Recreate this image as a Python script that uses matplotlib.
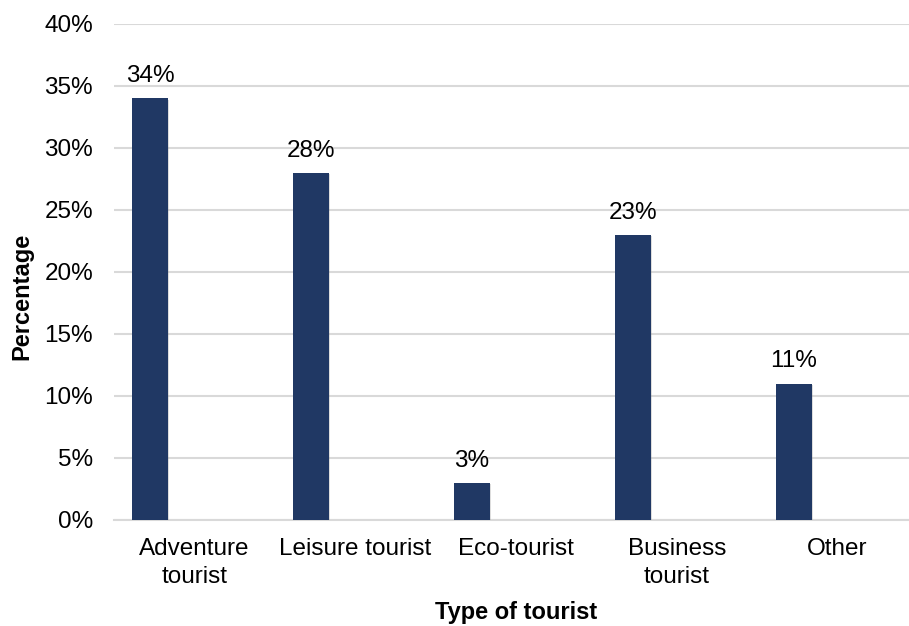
import matplotlib
matplotlib.use("Agg")
import matplotlib.pyplot as plt
import matplotlib.patheffects as pe
import numpy as np

# data: share of respondents by type of tourist
categories = ["Adventure\ntourist", "Leisure tourist", "Eco-tourist", "Business\ntourist", "Other"]
shares = [34, 28, 3, 23, 11]
ytick_vals = [0, 5, 10, 15, 20, 25, 30, 35, 40]

plt.rcParams['font.family'] = ['Liberation Sans', 'DejaVu Sans']

fig = plt.figure(figsize=(9.09, 6.26), dpi=100)
ax = fig.add_axes([114 / 909, 1 - 520 / 626, 804 / 909, 496 / 626])

x = np.arange(len(categories))
bar_pos = x - 0.274  # bars sit left of the category centre
bar_color = '#203864'
bars = ax.bar(bar_pos, shares, width=0.224, color=bar_color, zorder=3,
              path_effects=[pe.SimplePatchShadow(offset=(0.8, -0.8), shadow_rgbFace='#909090', alpha=0.3),
                            pe.Normal()])

for px, v in zip(bar_pos, shares):
    ax.annotate(f"{v}%", (px, v), xytext=(0, 8), textcoords='offset points',
                ha='center', va='bottom', fontsize=17.5, color='#000000')

ax.set_xlim(-0.5, len(categories) - 0.5)
ax.set_ylim(0, 40)
ax.set_yticks(ytick_vals)
ax.set_yticklabels([f"{t}%" for t in ytick_vals])
ax.set_xticks(x)
ax.set_xticklabels(categories, linespacing=1.33)

ax.tick_params(axis='both', length=0, labelsize=17.5, colors='#000000')
ax.tick_params(axis='x', pad=13)
ax.tick_params(axis='y', pad=15)

ax.grid(axis='y', color='#d9d9d9', linewidth=1.5, zorder=0)
for s in ['top', 'right', 'left']:
    ax.spines[s].set_visible(False)
ax.spines['bottom'].set_color('#d9d9d9')
ax.spines['bottom'].set_linewidth(1.5)

fig.text(22 / 909, 1 - 296 / 626, "Percentage", rotation=90, ha='center', va='center',
         fontsize=17, fontweight='bold')
fig.text(516 / 909, 1 - 612 / 626, "Type of tourist", ha='center', va='center',
         fontsize=17, fontweight='bold')

fig.savefig("out.png", dpi=100)
